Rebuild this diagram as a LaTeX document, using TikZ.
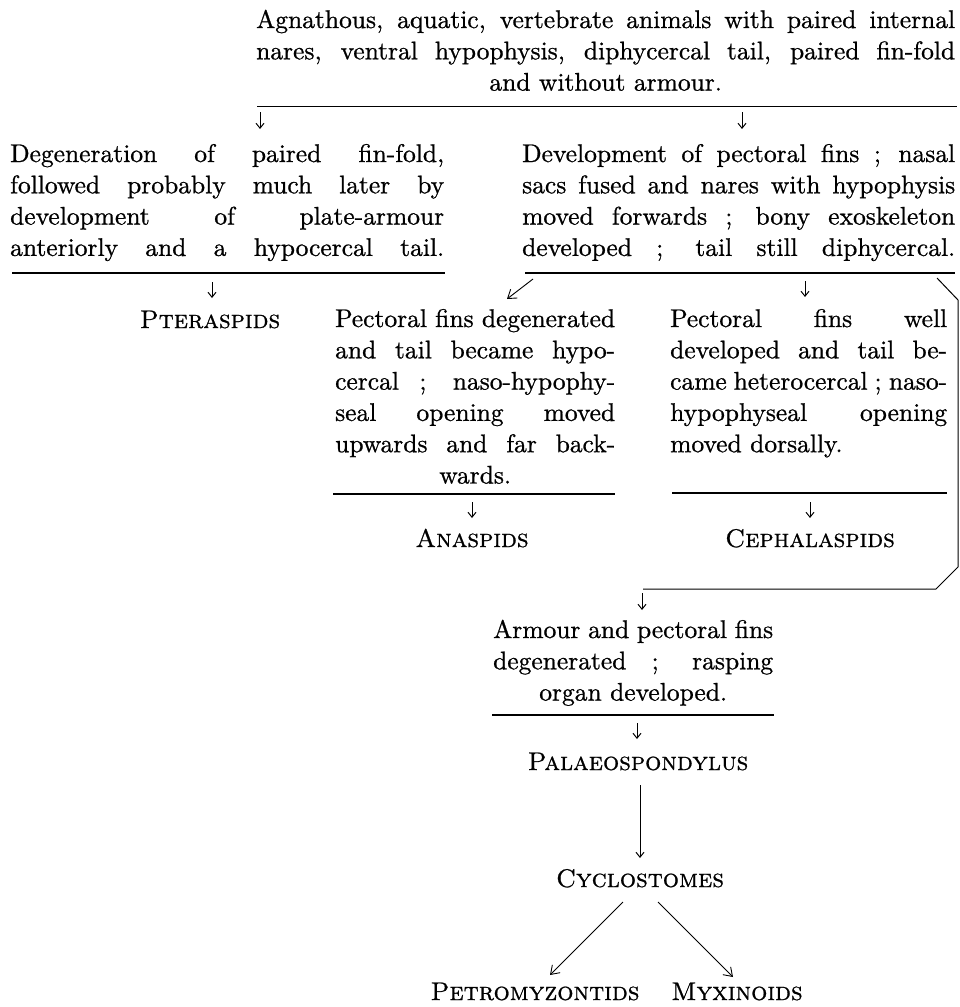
\documentclass[tikz,border=0pt]{standalone}
\usepackage{fontspec}
\setmainfont{lmroman10-regular}[Extension=.otf,FakeBold=0.8]
\newfontfamily\scf{lmromancaps10-regular}[Extension=.otf,FakeBold=0.8]
\usetikzlibrary{arrows.meta}
\newcommand\strutx{\rule[-9.4pt]{0pt}{31.3pt}}
\newcommand\jln[1]{\hbox to\hsize{\strutx#1}}
\newcommand\cln[1]{\hbox to\hsize{\strutx\hfil#1\hfil}}
\newcommand\lln[1]{\hbox to\hsize{\strutx#1\hfil}}
\newcommand\blk[2]{\vtop{\hsize=#1\relax
  \spaceskip=0.333em plus 2em minus 0.2em\relax
  \xspaceskip=\spaceskip #2}}
\begin{document}
\begin{tikzpicture}[x=1pt,y=-1pt,
  txt/.style={inner sep=0pt,font=\fontsize{25.5}{31.3}\selectfont},
  blkn/.style={txt,anchor=base west},
  lab/.style={txt,anchor=base,font=\fontsize{25.5}{31.3}\selectfont\scf},
  rulel/.style={line width=1.8pt},
  arr/.style={line width=1pt,-{Straight Barb[length=5pt,width=8pt]}},
  darr/.style={line width=0.9pt,-{Straight Barb[length=8pt,width=11pt]}},
  conn/.style={line width=1pt,line join=miter}]
\useasboundingbox (0,0) rectangle (959,1007);

% text blocks
\node[blkn] (top) at (256,28) {\blk{699pt}{%
\jln{Agnathous, aquatic, vertebrate animals with paired internal}
\jln{nares, ventral hypophysis, diphycercal tail, paired fin-fold}
\cln{and without armour.}}};

\node[blkn] (left) at (10,162) {\blk{434pt}{%
\jln{Degeneration of paired fin-fold,}
\jln{followed probably much later by}
\jln{development of plate-armour}
\jln{anteriorly and a hypocercal tail.}}};

\node[blkn] (right) at (522,162) {\blk{433pt}{%
\jln{Development of pectoral fins ; nasal}
\jln{sacs fused and nares with hypophysis}
\jln{moved forwards ; bony exoskeleton}
\jln{developed ; tail still diphycercal.}}};

\node[lab] (ptera) at (210,328) {Pteraspids};

\node[blkn] (blA) at (335,327) {\blk{280pt}{%
\jln{Pectoral fins degenerated}
\jln{and tail became hypo-}
\jln{cercal ; naso-hypophy-}
\jln{seal opening moved}
\jln{upwards and far back-}
\cln{wards.}}};

\node[blkn] (blB) at (670,327) {\blk{277pt}{%
\jln{Pectoral fins well}
\jln{developed and tail be-}
\jln{came heterocercal ; naso-}
\jln{hypophyseal opening}
\lln{moved dorsally.}}};

\node[lab] (anas) at (472,547) {Anaspids};
\node[lab] (ceph) at (810,547) {Cephalaspids};

\node[blkn] (blC) at (493,638) {\blk{280pt}{%
\jln{Armour and pectoral fins}
\jln{degenerated ; rasping}
\cln{organ developed.}}};

\node[lab] (palaeo) at (638,770) {Palaeospondylus};
\node[lab] (cyclo) at (640,887) {Cyclostomes};
\node[lab] (petro) at (535,1000) {Petromyzontids};
\node[lab] (myxi) at (737,1000) {Myxinoids};

% rules
\coordinate (r1a) at (257,106.5); \coordinate (r1b) at (957,106.5);
\coordinate (r2a) at (12,273);  \coordinate (r2b) at (445,273);
\coordinate (r3a) at (525,273); \coordinate (r3b) at (955,273);
\coordinate (rAa) at (333,494); \coordinate (rAb) at (615,494);
\coordinate (rBa) at (672,493); \coordinate (rBb) at (947,493);
\coordinate (rCa) at (492,715); \coordinate (rCb) at (774,715);
\foreach \a/\b in {r1a/r1b,r2a/r2b,r3a/r3b,rAa/rAb,rBa/rBb,rCa/rCb}
  \draw[rulel] (\a) -- (\b);

% short arrows
\coordinate (a1s) at (260,112); \coordinate (a1e) at (260,129);
\coordinate (a2s) at (742,112); \coordinate (a2e) at (742,129);
\coordinate (a3s) at (212,282); \coordinate (a3e) at (212,298);
\coordinate (a4s) at (805,281); \coordinate (a4e) at (805,297);
\coordinate (a5s) at (472,502); \coordinate (a5e) at (472,518);
\coordinate (a6s) at (810,502); \coordinate (a6e) at (810,518);
\coordinate (a7s) at (642,593); \coordinate (a7e) at (642,610);
\coordinate (a8s) at (637,723); \coordinate (a8e) at (637,739);
\foreach \a/\b in {a1s/a1e,a2s/a2e,a3s/a3e,a4s/a4e,a5s/a5e,a6s/a6e,a7s/a7e,a8s/a8e}
  \draw[arr] (\a) -- (\b);

% slanted arrow to block A
\coordinate (d1s) at (533,279); \coordinate (d1e) at (507,299);
\draw[darr] (d1s) -- (d1e);

% connector round the right side
\coordinate (c1) at (937,278); \coordinate (c2) at (958,300);
\coordinate (c3) at (958,567); \coordinate (c4) at (936,589);
\coordinate (c5) at (643,589);
\draw[conn] (c1) -- (c2) -- (c3) -- (c4) -- (c5);

% Palaeospondylus -> Cyclostomes
\coordinate (v1) at (640,785); \coordinate (v2) at (640,858);
\draw[arr] (v1) -- (v2);

% Cyclostomes -> descendants
\coordinate (p1) at (623,902); \coordinate (p2) at (550,975);
\coordinate (m1) at (658,902); \coordinate (m2) at (733,977);
\draw[darr] (p1) -- (p2);
\draw[darr] (m1) -- (m2);
\end{tikzpicture}
\end{document}
